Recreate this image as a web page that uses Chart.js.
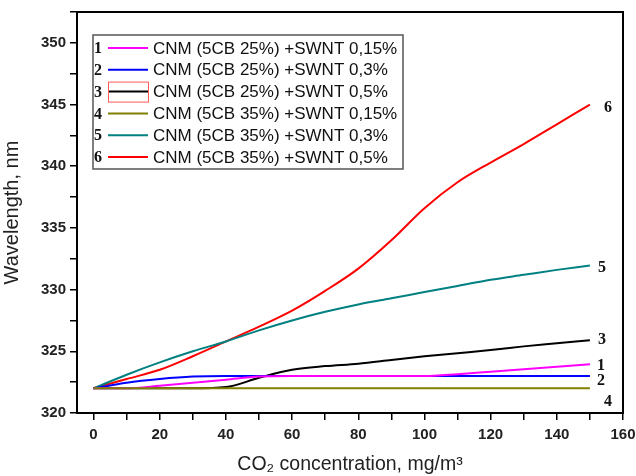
<!DOCTYPE html>
<html>
<head>
<meta charset="utf-8">
<script src="https://cdn.jsdelivr.net/npm/chart.js@4.4.1/dist/chart.umd.min.js"></script>
<style>
  html, body { margin: 0; padding: 0; background: #fff; }
  #wrap { width: 636px; height: 476px; }
</style>
</head>
<body>
<div id="wrap"><canvas id="co2Chart" width="636" height="476"></canvas></div>
<script>
// x values, mg/m3
let concentration = [0, 10, 20, 30, 40, 50, 60, 70, 80, 90, 100, 110, 120, 130, 140, 150];

let labels = [
    'CNM (5CB 25%) +SWNT 0,15%',
    'CNM (5CB 25%) +SWNT 0,3%',
    'CNM (5CB 25%) +SWNT 0,5%',
    'CNM (5CB 35%) +SWNT 0,15%',
    'CNM (5CB 35%) +SWNT 0,3%',
    'CNM (5CB 35%) +SWNT 0,5%'
];
let curveNumbers = ['1', '2', '3', '4', '5', '6'];

// wavelength, nm
let wl1 = [322, 322, 322.2, 322.45, 322.7, 322.95, 323, 323, 323, 323, 323, 323.15, 323.35, 323.55, 323.75, 323.95];
let wl2 = [322, 322.45, 322.75, 322.95, 323, 323, 323, 323, 323, 323, 323, 323, 323, 323, 323, 323];
let wl3 = [322, 322, 322, 322, 322.1, 322.85, 323.5, 323.8, 324, 324.3, 324.6, 324.85, 325.1, 325.4, 325.65, 325.9];
let wl4 = [322, 322, 322, 322, 322, 322, 322, 322, 322, 322, 322, 322, 322, 322, 322, 322];
let wl5 = [322, 323.1, 324.1, 325, 325.8, 326.7, 327.5, 328.2, 328.8, 329.3, 329.8, 330.3, 330.8, 331.2, 331.6, 331.95];
let wl6 = [322, 322.75, 323.5, 324.6, 325.8, 327, 328.3, 329.9, 331.7, 334, 336.6, 338.7, 340.3, 341.8, 343.4, 345];

let series = [wl1, wl2, wl3, wl4, wl5, wl6];
let colors = ['#ff00ff', '#0000ff', '#000000', '#808000', '#008080', '#ff0000'];

function toPoints(values) {
    return values.map(function (v, i) { return { x: concentration[i], y: v }; });
}

let datasets = series.map(function (values, i) {
    return {
        label: labels[i],
        data: toPoints(values),
        borderColor: colors[i],
        backgroundColor: colors[i],
        borderWidth: 2,
        pointRadius: 0,
        cubicInterpolationMode: 'monotone',
        order: i === 3 ? -1 : 1
    };
});

// frame on top and right, like the Origin plot
const framePlugin = {
    id: 'frame',
    afterDraw(chart) {
        const a = chart.chartArea;
        const ctx = chart.ctx;
        ctx.save();
        ctx.strokeStyle = '#000';
        ctx.lineWidth = 2;
        ctx.strokeRect(a.left, a.top, a.right - a.left, a.bottom - a.top);
        ctx.restore();
    }
};

// numbers at the end of the curves
const endLabelPlugin = {
    id: 'endLabels',
    afterDatasetsDraw(chart) {
        const ctx = chart.ctx;
        const xs = chart.scales.x, ys = chart.scales.y;
        // small nudges so the digits do not overlap
        const nudge = [[7, 2], [7, 5], [8, 0], [14, 14], [8, 2], [14, 3]];
        ctx.save();
        ctx.font = 'bold 16px "Liberation Serif", "Times New Roman", serif';
        ctx.fillStyle = '#111';
        ctx.textAlign = 'left';
        ctx.textBaseline = 'middle';
        series.forEach(function (values, i) {
            const last = values.length - 1;
            const px = xs.getPixelForValue(concentration[last]);
            const py = ys.getPixelForValue(values[last]);
            ctx.fillText(curveNumbers[i], px + nudge[i][0], py + nudge[i][1]);
        });
        ctx.restore();
    }
};

// legend box inside the plot
const boxLegendPlugin = {
    id: 'boxLegend',
    afterDraw(chart) {
        const ctx = chart.ctx;
        const left = 93, top = 35, w = 310, h = 134;
        const rowH = 21.8;
        ctx.save();
        ctx.fillStyle = '#fff';
        ctx.fillRect(left, top, w, h);
        ctx.strokeStyle = '#555';
        ctx.lineWidth = 1.5;
        ctx.strokeRect(left, top, w, h);
        chart.data.datasets.forEach(function (ds, i) {
            const cy = top + 13 + i * rowH;
            ctx.font = 'bold 16px "Liberation Serif", "Times New Roman", serif';
            ctx.fillStyle = '#111';
            ctx.textAlign = 'center';
            ctx.textBaseline = 'middle';
            ctx.fillText(curveNumbers[i], left + 5, cy + 1);
            ctx.strokeStyle = ds.borderColor;
            ctx.lineWidth = 2;
            ctx.beginPath();
            ctx.moveTo(left + 15, cy);
            ctx.lineTo(left + 55, cy);
            ctx.stroke();
            if (i === 2) {
                ctx.strokeStyle = '#ff5a5a';
                ctx.lineWidth = 1;
                ctx.strokeRect(left + 15.5, cy - 9.5, 40, 20);
            }
            ctx.font = '17px "Liberation Sans", Arial, sans-serif';
            ctx.fillStyle = '#111';
            ctx.textAlign = 'left';
            ctx.fillText(ds.label, left + 60, cy + 1);
        });
        ctx.restore();
    }
};

const tickFont = { family: '"Liberation Sans", Arial, sans-serif', size: 15, weight: 'bold' };

const ctx = document.getElementById('co2Chart');
const co2Chart = new Chart(ctx, {
    type: 'line',
    data: { datasets: datasets },
    options: {
        responsive: false,
        animation: false,
        layout: { padding: { left: 0, right: 13, top: 12, bottom: 0 } },
        plugins: {
            legend: { display: false },
            tooltip: { enabled: false }
        },
        scales: {
            x: {
                type: 'linear',
                min: -5,
                max: 160,
                ticks: {
                    stepSize: 10,
                    includeBounds: false,
                    autoSkip: false,
                    maxRotation: 0,
                    color: '#222',
                    font: tickFont,
                    padding: 6,
                    callback: function (v) { return v % 20 === 0 ? v : ''; }
                },
                grid: { drawOnChartArea: false, drawTicks: true, tickLength: 7, color: '#000', lineWidth: 1.5 },
                border: { display: true, color: '#000', width: 2 },
                title: {
                    display: true,
                    text: 'CO\u2082 concentration, mg/m\u00b3',
                    color: '#222',
                    font: { family: '"Liberation Sans", Arial, sans-serif', size: 19.5 },
                    padding: { top: 3, bottom: 0 }
                },
                afterFit: function (scale) {
                    scale.height = 63;
                    scale.paddingLeft = 0;
                    scale.paddingRight = 0;
                }
            },
            y: {
                type: 'linear',
                min: 320,
                max: 352.5,
                ticks: {
                    stepSize: 2.5,
                    includeBounds: false,
                    autoSkip: false,
                    color: '#222',
                    font: tickFont,
                    padding: 4,
                    callback: function (v) { return v % 5 === 0 ? v : ''; }
                },
                grid: { drawOnChartArea: false, drawTicks: true, tickLength: 7, color: '#000', lineWidth: 1.5 },
                border: { display: true, color: '#000', width: 2 },
                title: {
                    display: true,
                    text: 'Wavelength, nm',
                    color: '#222',
                    font: { family: '"Liberation Sans", Arial, sans-serif', size: 20 },
                    padding: { top: 0, bottom: 2 }
                },
                afterFit: function (scale) {
                    scale.width = 77;
                    scale.paddingTop = 0;
                    scale.paddingBottom = 0;
                }
            }
        }
    },
    plugins: [framePlugin, endLabelPlugin, boxLegendPlugin]
});
</script>
</body>
</html>
